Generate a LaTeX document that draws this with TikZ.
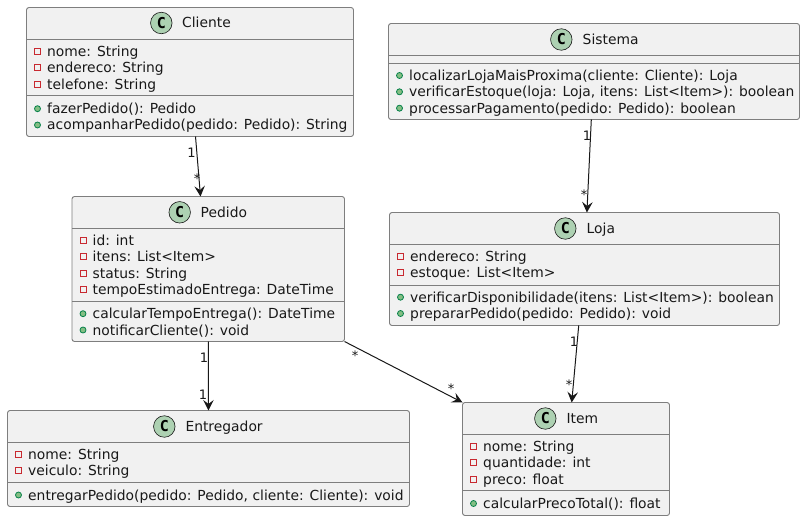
\documentclass[tikz,border=0pt]{standalone}
\usepackage{fontspec}
\setmainfont{DejaVu Sans}
\newfontfamily\spotfont{DejaVu Sans Mono}
\usetikzlibrary{arrows.meta}
\definecolor{boxfill}{HTML}{F1F1F1}
\definecolor{ink}{HTML}{181818}
\definecolor{edge}{HTML}{7E7E7E}
\definecolor{spot}{HTML}{ADD1B2}
\definecolor{privred}{HTML}{C82930}
\definecolor{pubfill}{HTML}{84BE84}
\definecolor{pubedge}{HTML}{038048}
\tikzset{
  umlbox/.style={draw=edge,fill=boxfill,line width=.9pt,rounded corners=2.5pt,inner sep=0pt,outer sep=0pt},
  sepline/.style={draw=edge,line width=.9pt},
  rowtext/.style={anchor=base west,inner sep=0pt,font=\fontsize{13.86}{16}\selectfont,text=ink},
  classspot/.style={circle,draw=ink,fill=spot,line width=.6pt,minimum size=21.5pt,inner sep=0pt,font=\spotfont\fontsize{15}{16}\bfseries\selectfont,text=black},
  privmark/.style={draw=privred,line width=1pt,minimum size=6pt,inner sep=0pt,fill=none},
  pubmark/.style={circle,draw=pubedge,fill=pubfill,line width=.8pt,minimum size=6pt,inner sep=0pt},
  assoc/.style={draw=ink,line width=1pt,-{Stealth[length=10.5pt,width=10.5pt,inset=4pt]}},
  mult/.style={inner sep=0pt,font=\fontsize{13}{15}\selectfont,text=ink},
}
% name x0 y0 x1 y1
\newcommand\umlnode[5]{%
  \node[umlbox,minimum width={(#4-#2)*1pt},minimum height={(#5-#3)*1pt}] (#1) at ({(#2+#4)/2},{(#3+#5)/2}) {};}
% name spotx y textx title
\newcommand\umltitle[5]{%
  \node[classspot] (#1-spot) at (#2,#3) {C};
  \node[rowtext] (#1-title) at (#4,#3+5) {#5};}
% name x0 x1 y
\newcommand\umlsep[4]{\draw[sepline] (#2,#4) -- (#3,#4);}
% name x0 baseline text
\newcommand\privrow[4]{%
  \node[privmark] (#1-m) at (#2+11,#3-5) {};
  \node[rowtext] (#1-t) at (#2+20.5,#3) {#4};}
\newcommand\pubrow[4]{%
  \node[pubmark] (#1-m) at (#2+11,#3-5) {};
  \node[rowtext] (#1-t) at (#2+20.5,#3) {#4};}
\begin{document}
\begin{tikzpicture}[x=1pt,y=-1pt]
\useasboundingbox (0,0) rectangle (805,521);
% Cliente
\umlnode{cliente}{26.5}{7.5}{353.5}{136.5}
\umlsep{c}{26.5}{353.5}{39.5}\umlsep{c}{26.5}{353.5}{95.5}
\umltitle{cliente}{161.3}{23}{182}{Cliente}
\privrow{c1}{26.5}{56.7}{nome: String}
\privrow{c2}{26.5}{72.9}{endereco: String}
\privrow{c3}{26.5}{89.3}{telefone: String}
\pubrow{c4}{26.5}{113.7}{fazerPedido(): Pedido}
\pubrow{c5}{26.5}{130}{acompanharPedido(pedido: Pedido): String}
% Pedido
\umlnode{pedido}{72}{196.5}{344.5}{341.5}
\umlsep{p}{72}{344.5}{228.5}\umlsep{p}{72}{344.5}{301.5}
\umltitle{pedido}{179.7}{212.3}{200.5}{Pedido}
\privrow{p1}{72}{245.3}{id: int}
\privrow{p2}{72}{261.6}{itens: List<Item>}
\privrow{p3}{72}{278}{status: String}
\privrow{p4}{72}{294.3}{tempoEstimadoEntrega: DateTime}
\pubrow{p5}{72}{318.7}{calcularTempoEntrega(): DateTime}
\pubrow{p6}{72}{335}{notificarCliente(): void}
% Entregador
\umlnode{entregador}{7.5}{410.5}{409.5}{506.5}
\umlsep{e}{7.5}{409.5}{442.5}\umlsep{e}{7.5}{409.5}{482.5}
\umltitle{entregador}{164.3}{426.5}{185.3}{Entregador}
\privrow{e1}{7.5}{459.5}{nome: String}
\privrow{e2}{7.5}{475.8}{veiculo: String}
\pubrow{e3}{7.5}{500}{entregarPedido(pedido: Pedido, cliente: Cliente): void}
% Sistema
\umlnode{sistema}{388.5}{23.5}{799.5}{119.5}
\umlsep{s}{388.5}{799.5}{55.5}\umlsep{s}{388.5}{799.5}{63.5}
\umltitle{sistema}{561.3}{39.5}{582.5}{Sistema}
\pubrow{s1}{388.5}{80.5}{localizarLojaMaisProxima(cliente: Cliente): Loja}
\pubrow{s2}{388.5}{96.8}{verificarEstoque(loja: Loja, itens: List<Item>): boolean}
\pubrow{s3}{388.5}{113.2}{processarPagamento(pedido: Pedido): boolean}
% Loja
\umlnode{loja}{389.5}{212.5}{779.5}{325.5}
\umlsep{l}{389.5}{779.5}{244.5}\umlsep{l}{389.5}{779.5}{285.5}
\umltitle{loja}{565.3}{228.5}{586.5}{Loja}
\privrow{l1}{389.5}{261.5}{endereco: String}
\privrow{l2}{389.5}{277.8}{estoque: List<Item>}
\pubrow{l3}{389.5}{302.2}{verificarDisponibilidade(itens: List<Item>): boolean}
\pubrow{l4}{389.5}{318.5}{prepararPedido(pedido: Pedido): void}
% Item
\umlnode{item}{462.5}{402.5}{669.5}{515.5}
\umlsep{i}{462.5}{669.5}{434.5}\umlsep{i}{462.5}{669.5}{490.5}
\umltitle{item}{545.3}{418.5}{566.3}{Item}
\privrow{i1}{462.5}{451.5}{nome: String}
\privrow{i2}{462.5}{467.8}{quantidade: int}
\privrow{i3}{462.5}{484.2}{preco: float}
\pubrow{i4}{462.5}{508.5}{calcularPrecoTotal(): float}
% connectors
\draw[assoc] ([xshift=5.5pt]cliente.south) -- ([xshift=-7.75pt]pedido.north);
\draw[assoc] ([xshift=-2.7pt]sistema.south) -- ([xshift=2.4pt]loja.north);
\draw[assoc] ([xshift=-5.8pt]loja.south) -- ([xshift=5.7pt]item.north);
\draw[assoc] (pedido.south) -- (entregador.north);
\draw[assoc] (pedido.south east) -- (item.north west);
% multiplicities
\node[mult] (m1) at (191.5,152.7) {1};
\node[mult] (m2) at (197,178.5) {*};
\node[mult] (m3) at (587,135.3) {1};
\node[mult] (m4) at (584,194.5) {*};
\node[mult] (m5) at (574,342) {1};
\node[mult] (m6) at (569,384.5) {*};
\node[mult] (m7) at (204,357.7) {1};
\node[mult] (m8) at (203,394.3) {1};
\node[mult] (m9) at (355,355.7) {*};
\node[mult] (m10) at (451,389) {*};
\end{tikzpicture}
\end{document}
